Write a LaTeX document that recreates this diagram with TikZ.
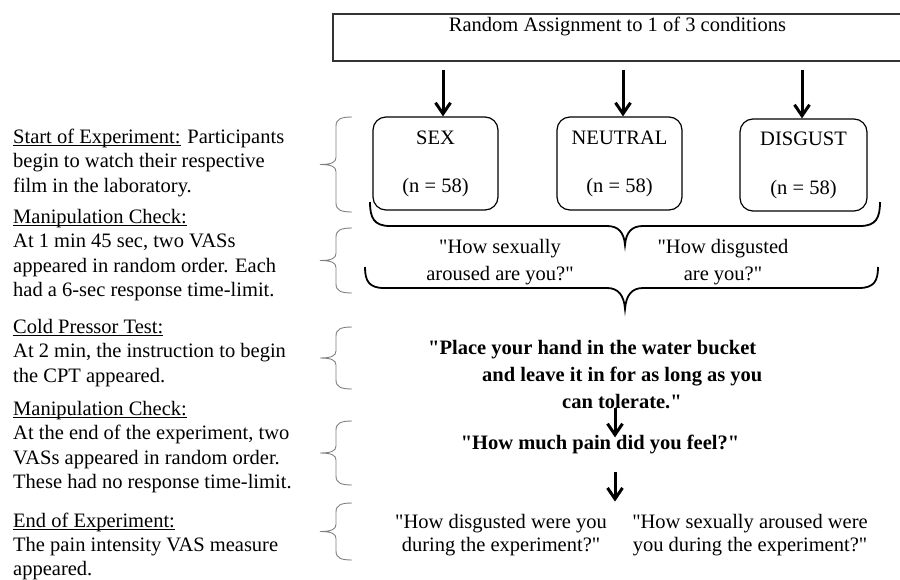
\documentclass[tikz,border=0pt]{standalone}
\usepackage{fontspec}
\setmainfont{Liberation Serif}[Ligatures=TeXOff]
\usepackage{tikz}
\usetikzlibrary{arrows.meta}
\newcommand{\uhead}[1]{\setbox0\hbox{#1}\rlap{\rule[-2.6pt]{\wd0}{0.9pt}}#1}
\begin{document}
\begin{tikzpicture}[x=1pt,y=-1pt]
\tikzstyle{txt}=[inner sep=0pt,font=\fontsize{20.5}{24.5}\selectfont]
\tikzstyle{cond}=[draw,line width=1.2pt,rounded corners=13pt,minimum height=93pt,align=center,font=\fontsize{20.5}{24.5}\selectfont]
\tikzstyle{arrow}=[line width=3pt,-{Straight Barb[length=11pt,width=15pt]}]
\tikzstyle{sidebrace}=[gray,line width=0.9pt]
\tikzstyle{bigbrace}=[line width=1.8pt]
\useasboundingbox (0,0) rectangle (900,579);
\node[txt,draw=black!80,line width=1.2pt,anchor=base,text height=14pt,text depth=27pt,inner ysep=3pt,minimum width=569pt] (assign) at (617.5,31) {Random Assignment to 1 of 3 conditions};
\node[cond,minimum width=125pt] (sex) at (435.5,163.5) {SEX\\[23.5pt](n = 58)};
\node[cond,minimum width=125pt] (neutral) at (619.5,163.5) {NEUTRAL\\[23.5pt](n = 58)};
\node[cond,minimum width=127pt,minimum height=92pt] (disgust) at (803.5,165) {DISGUST\\[24.5pt](n = 58)};
\draw[arrow,shorten <=8pt] ([xshift=7.5pt]sex.north |- assign.south) -- ([xshift=7.5pt]sex.north);
\draw[arrow,shorten <=8pt] ([xshift=3.5pt]neutral.north |- assign.south) -- ([xshift=3.5pt]neutral.north);
\draw[arrow,shorten <=8pt] ([xshift=-1.5pt]disgust.north |- assign.south) -- ([xshift=-1.5pt]disgust.north);
\node[txt,anchor=base west,align=left] (start) at (13,192) {\uhead{Start of Experiment:} Participants\\begin to watch their respective\\film in the laboratory.};
\node[txt,anchor=base west,align=left] (check1) at (13,296.5) {\uhead{Manipulation Check:}\\At 1 min 45 sec, two VASs\\appeared in random order. Each\\had a 6-sec response time-limit.};
\node[txt,anchor=base west,align=left] (cold) at (13,382) {\uhead{Cold Pressor Test:}\\At 2 min, the instruction to begin\\the CPT appeared.};
\node[txt,anchor=base west,align=left] (check2) at (13,488.5) {\uhead{Manipulation Check:}\\At the end of the experiment, two\\VASs appeared in random order.\\These had no response time-limit.};
\node[txt,anchor=base west,align=left,font=\fontsize{20.5}{24}\selectfont] (finish) at (13,575) {\uhead{End of Experiment:}\\The pain intensity VAS measure\\appeared.};
\foreach \ya/\yb in {117/212,228/293,327/389,421/485,503/560}{
\pgfmathsetmacro\ym{(\ya+\yb)/2}
\draw[sidebrace] (352,\ya) .. controls (341,\ya) and (336,\ya+2) .. (336,\ya+9) -- (336,\ym-7) .. controls (336,\ym-2) and (331,\ym) .. (320,\ym) .. controls (331,\ym) and (336,\ym+2) .. (336,\ym+7) -- (336,\yb-9) .. controls (336,\yb-2) and (341,\yb) .. (352,\yb);
}
\draw[bigbrace] (370,202) .. controls (370,218) and (374,226) .. (390,226) -- (607,226) .. controls (618,226) and (624,232) .. (625,245) .. controls (626,232) and (632,226) .. (643,226) -- (860,226) .. controls (876,226) and (880,218) .. (880,202);
\node[txt,anchor=base,align=center,font=\fontsize{20.5}{27}\selectfont] (askarousal) at (500,280) {"How sexually\\aroused are you?"};
\node[txt,anchor=base,align=center,font=\fontsize{20.5}{27}\selectfont] (askdisgust) at (723,280) {"How disgusted\\are you?"};
\draw[bigbrace] (365,267) .. controls (365,281) and (369,288) .. (384,288) -- (607,288) .. controls (618,288) and (624,295) .. (625,309) .. controls (626,295) and (632,288) .. (643,288) -- (859,288) .. controls (874,288) and (878,281) .. (878,267);
\node[txt,anchor=base west,align=left,font=\fontsize{20.5}{27}\selectfont\bfseries] (cpt) at (428,408) {"Place your hand in the water bucket\\\hspace*{54pt}and leave it in for as long as you\\\hspace*{134pt}can tolerate."};
\node[txt,anchor=base,font=\fontsize{20.5}{24.5}\selectfont\bfseries] (pain) at (600,449) {"How much pain did you feel?"};
\draw[arrow,shorten >=-3pt] ([xshift=15pt]pain.north |- cpt.south) -- ([xshift=15pt]pain.north);
\node[txt,anchor=base,align=center,font=\fontsize{20.5}{23}\selectfont] (recdisgust) at (501,551) {"How disgusted were you\\during the experiment?"};
\node[txt,anchor=base,align=center,font=\fontsize{20.5}{23}\selectfont] (recarousal) at (750,551) {"How sexually aroused were\\you during the experiment?"};
\draw[arrow,shorten <=18.5pt,shorten >=12pt] ([xshift=15pt]pain.south) -- ([xshift=15pt]pain.south |- recdisgust.north);
\end{tikzpicture}
\end{document}
